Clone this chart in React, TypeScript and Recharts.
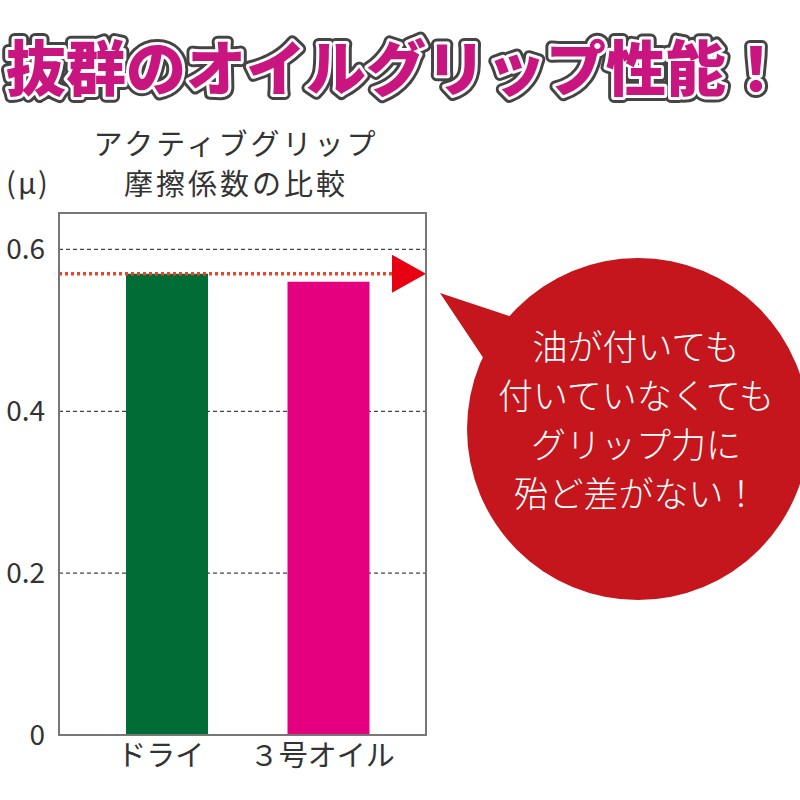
import { BarChart, Bar, Cell, XAxis, YAxis, CartesianGrid, ReferenceLine } from "recharts";

const categories = ["ドライ", "３号オイル"];
const frictionValues = [0.57, 0.56];
const barColors = ["#006C36", "#E5007F"];
const yTicks = [0, 0.2, 0.4, 0.6];
const dryLevel = 0.57;

const mainTitle = "抜群のオイルグリップ性能！";
const chartTitle = ["アクティブグリップ", "摩擦係数の比較"];
const unitLabel = "(μ)";
const bubbleLines = ["油が付いても", "付いていなくても", "グリップ力に", "殆ど差がない！"];

const FONT = '"Noto Sans CJK JP", "Noto Sans", sans-serif';

const data = categories.map((name, i) => ({ name, value: frictionValues[i] }));

// red triangle at the end of the dotted line
function ArrowHead(props: any) {
  const vb = props.viewBox || {};
  const endX = vb.x + vb.width;
  const y = vb.y;
  return (
    <polygon
      points={`${endX - 34},${y - 19} ${endX},${y} ${endX - 34},${y + 19}`}
      fill="#E60012"
    />
  );
}

export default function App() {
  return (
    <div style={{ position: "absolute", left: 0, top: 0, width: 800, height: 800, background: "#fff", fontFamily: FONT }}>
      <BarChart
        width={800}
        height={800}
        data={data}
        margin={{ top: 213, right: 374, bottom: 0, left: 0 }}
      >
        <CartesianGrid vertical={false} stroke="#444" strokeDasharray="4 3" strokeWidth={1.2} />
        <XAxis
          dataKey="name"
          padding={{ left: 27, right: 17 }}
          axisLine={{ stroke: "#777", strokeWidth: 2 }}
          tickLine={false}
          tickSize={0}
          tickMargin={10}
          height={65}
          tick={{ fontSize: 29, fill: "#333", fontFamily: FONT, dx: -6 }}
        />
        <YAxis
          domain={[0, 0.645]}
          ticks={yTicks}
          width={59}
          axisLine={{ stroke: "#777", strokeWidth: 2 }}
          tickLine={false}
          tickSize={0}
          tickMargin={14}
          tickFormatter={(v: number) => (v === 0 ? "0" : String(v))}
          tick={{ fontSize: 28, fill: "#333", fontFamily: FONT }}
        />
        <Bar dataKey="value" barSize={82} isAnimationActive={false}>
          {data.map((d, i) => (
            <Cell key={d.name} fill={barColors[i]} />
          ))}
        </Bar>
        <ReferenceLine
          y={dryLevel}
          stroke="#E9452C"
          strokeWidth={3.5}
          strokeDasharray="3 3"
          label={<ArrowHead />}
        />
      </BarChart>

      <svg width={800} height={800} style={{ position: "absolute", left: 0, top: 0, pointerEvents: "none" }}>
        {/* plot frame */}
        <rect x={59} y={213} width={367} height={522} fill="none" stroke="#777" strokeWidth={2} />

        {/* main heading, outlined */}
        <g fontFamily={FONT} fontSize={60} fontWeight={900} textAnchor="middle">
          <text x={396} y={91} stroke="#444" strokeWidth={12} strokeLinejoin="round" fill="#444">{mainTitle}</text>
          <text x={396} y={91} stroke="#fff" strokeWidth={6} strokeLinejoin="round" fill="#fff">{mainTitle}</text>
          <text x={396} y={91} fill="#C8157F">{mainTitle}</text>
        </g>

        <g fontFamily={FONT} fontSize={29} fill="#333" textAnchor="middle" letterSpacing={3}>
          <text x={236} y={155}>{chartTitle[0]}</text>
          <text x={236} y={195}>{chartTitle[1]}</text>
        </g>
        <text x={28} y={194} fontFamily={FONT} fontSize={29} fill="#333" textAnchor="middle" letterSpacing={2}>
          {unitLabel}
        </text>

        {/* speech bubble */}
        <polygon points="440,293 515,318 490,368" fill="#C4161C" />
        <circle cx={638} cy={429} r={171} fill="#C4161C" />
        <g fontFamily={FONT} fontSize={35} fontWeight={300} fill="#fff" textAnchor="middle">
          {bubbleLines.map((line, i) => (
            <text key={line} x={636} y={360 + i * 49}>
              {line}
            </text>
          ))}
        </g>
      </svg>
    </div>
  );
}
